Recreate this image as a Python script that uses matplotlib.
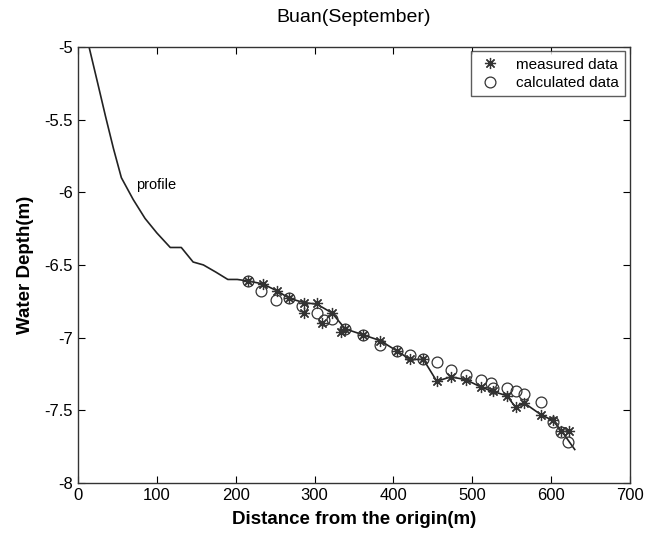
import matplotlib
matplotlib.use("Agg")
import matplotlib.pyplot as plt

plt.rcParams['font.family'] = ['Liberation Sans', 'DejaVu Sans']

# Profile line
profile_x = [14, 25, 35, 45, 55, 70, 85, 100, 117, 131, 146, 159, 175, 190, 202,
             215, 234, 253, 268, 287, 303, 322, 339, 361, 383, 404, 421, 438,
             455, 473, 492, 511, 526, 544, 555, 566, 587, 602, 613, 630]
profile_y = [-5.00, -5.25, -5.48, -5.70, -5.90, -6.05, -6.18, -6.28, -6.38, -6.38,
             -6.48, -6.50, -6.55, -6.60, -6.60,
             -6.61, -6.63, -6.68, -6.73, -6.76, -6.77, -6.83, -6.94, -6.98, -7.02,
             -7.09, -7.15, -7.15, -7.30, -7.27, -7.29, -7.34, -7.37, -7.40, -7.48,
             -7.45, -7.53, -7.57, -7.64, -7.77]

# Measured data (asterisks)
meas_x = [215, 234, 253, 268, 287, 286, 303, 310, 322, 334, 339, 361, 383, 404,
          421, 438, 455, 473, 492, 511, 526, 544, 555, 566, 587, 602, 613, 623]
meas_y = [-6.61, -6.63, -6.68, -6.73, -6.76, -6.83, -6.76, -6.90, -6.83, -6.96,
          -6.94, -6.98, -7.02, -7.09, -7.15, -7.15, -7.30, -7.27, -7.29, -7.34,
          -7.37, -7.40, -7.48, -7.45, -7.53, -7.57, -7.64, -7.64]

# Calculated data (circles)
calc_x = [215, 232, 251, 268, 284, 303, 312, 322, 339, 361, 383, 404, 421, 438,
          455, 473, 492, 511, 524, 526, 544, 555, 566, 587, 602, 613, 622]
calc_y = [-6.61, -6.68, -6.74, -6.73, -6.78, -6.83, -6.88, -6.87, -6.94, -6.98,
          -7.05, -7.09, -7.12, -7.15, -7.17, -7.22, -7.26, -7.29, -7.31, -7.35,
          -7.35, -7.37, -7.39, -7.44, -7.58, -7.65, -7.72]

fig = plt.figure(figsize=(6.61, 5.39), dpi=100)
ax = fig.add_axes([0.118, 0.104, 0.835, 0.809])

ax.plot(profile_x, profile_y, color='#222222', lw=1.2)
ax.plot(meas_x, meas_y, linestyle='none', marker=(8, 2, 0), markersize=8,
        color='#333333', markeredgewidth=0.9, label='measured data')
ax.plot(calc_x, calc_y, linestyle='none', marker='o', markersize=7.8,
        markerfacecolor='none', markeredgecolor='#333333', markeredgewidth=0.9,
        label='calculated data')

ax.text(73, -5.95, 'profile', fontsize=10.5, va='center', ha='left')

ax.set_xlim(0, 700)
ax.set_ylim(-8, -5)
ax.set_xticks([0, 100, 200, 300, 400, 500, 600, 700])
ax.set_yticks([-8, -7.5, -7, -6.5, -6, -5.5, -5])
ax.set_yticklabels(['-8', '-7.5', '-7', '-6.5', '-6', '-5.5', '-5'])
ax.tick_params(direction='in', top=True, right=True, labelsize=12, length=5)
for s in ax.spines.values():
    s.set_color('#333333')
    s.set_linewidth(1.0)

ax.set_title('Buan(September)', fontsize=14, pad=18)
ax.set_xlabel('Distance from the origin(m)', fontsize=13.5, fontweight='bold',
              labelpad=6)
ax.set_ylabel('Water Depth(m)', fontsize=13.5, fontweight='bold', labelpad=8)

leg = ax.legend(loc='upper right', fontsize=11, frameon=True, fancybox=False,
                edgecolor='#333333', borderaxespad=0.3, handletextpad=0.8,
                labelspacing=0.3, handlelength=1.8)
leg.get_frame().set_linewidth(1.0)

fig.savefig('out.png', dpi=100)
